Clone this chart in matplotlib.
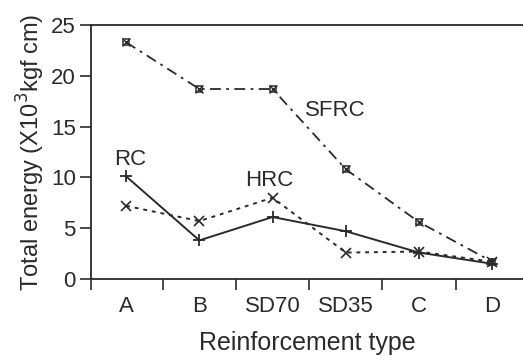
import matplotlib
matplotlib.use("Agg")
import matplotlib.pyplot as plt

categories = ["A", "B", "SD70", "SD35", "C", "D"]
sfrc = [23.3, 18.7, 18.7, 10.8, 5.6, 1.7]
rc = [10.1, 3.8, 6.1, 4.7, 2.6, 1.5]
hrc = [7.2, 5.7, 8.0, 2.6, 2.7, 1.7]

plt.rcParams['font.family'] = ['Liberation Sans', 'DejaVu Sans']
ink = '#2a2a2a'

fig = plt.figure(figsize=(5.23, 3.56), dpi=100)
ax = fig.add_axes([91/523, 77/356, 432/523, 254/356])
x = list(range(len(categories)))

# SFRC : tirets-points, marqueur carré croisé
ax.plot(x, sfrc, color=ink, linestyle=(0, (6, 3, 1.5, 3)), linewidth=1.3)
ax.plot(x, sfrc, linestyle='none', marker='s', markersize=5, mfc='none', mec=ink, mew=1.1)
ax.plot(x, sfrc, linestyle='none', marker='x', markersize=6, mec=ink, mew=1.0)
# RC : trait plein, marqueur +
ax.plot(x, rc, color=ink, linestyle='-', linewidth=1.4, marker='+', markersize=9, mew=1.3)
# HRC : pointillé, marqueur x
ax.plot(x, hrc, color=ink, linestyle=(0, (2, 2.5)), linewidth=1.4, marker='x', markersize=7, mew=1.2)

ax.text(0.05, 11.8, "RC", fontsize=16, color=ink, ha='center', va='center')
ax.text(1.95, 9.7, "HRC", fontsize=16, color=ink, ha='center', va='center')
ax.text(2.85, 16.6, "SFRC", fontsize=16, color=ink, ha='center', va='center')

ax.set_xlim(-0.48, 5.42)
ax.set_ylim(0, 25)
ax.set_xticks(x)
ax.set_xticklabels(categories)
ax.set_xticks([-0.48, 0.5, 1.5, 2.5, 3.5, 4.5], minor=True)
ax.set_yticks([0, 5, 10, 15, 20, 25])
ax.tick_params(axis='x', which='major', length=0, pad=12, labelsize=16, colors=ink)
ax.tick_params(axis='x', which='minor', length=8, width=1.2, color=ink, direction='out')
ax.tick_params(axis='y', length=8, width=1.2, pad=3, labelsize=16, colors=ink, direction='out')

ax.spines['right'].set_visible(False)
for s in ['left', 'bottom', 'top']:
    ax.spines[s].set_color(ink)
    ax.spines[s].set_linewidth(1.3)

ax.set_xlabel("Reinforcement type", fontsize=18, color=ink, labelpad=10)
ax.set_ylabel("Total energy (X10$^3$kgf cm)", fontsize=17, color=ink, labelpad=3)

fig.savefig("out.png", dpi=100)
